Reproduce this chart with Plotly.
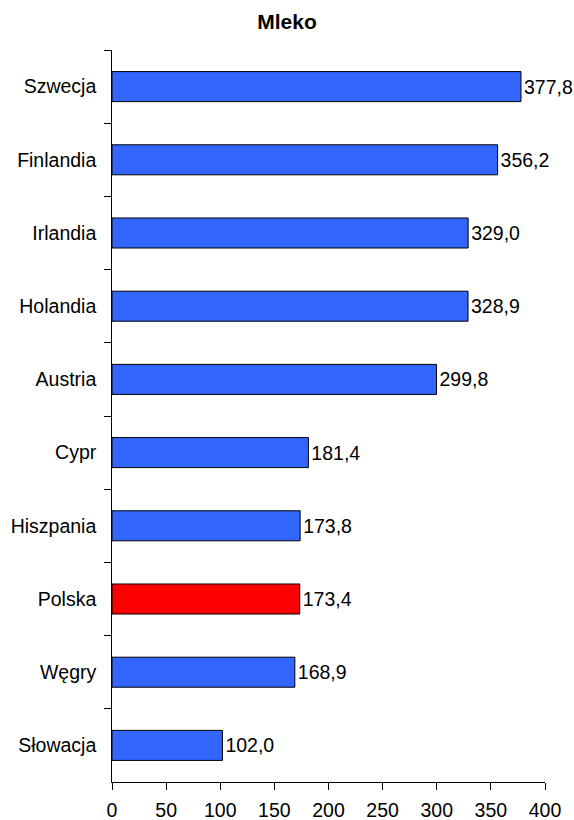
import plotly.graph_objects as go

countries = ["Szwecja", "Finlandia", "Irlandia", "Holandia", "Austria",
             "Cypr", "Hiszpania", "Polska", "Węgry", "Słowacja"]
values = [377.8, 356.2, 329.0, 328.9, 299.8, 181.4, 173.8, 173.4, 168.9, 102.0]
highlight = "Polska"
x_ticks = [0, 50, 100, 150, 200, 250, 300, 350, 400]

colors = ["#FF0000" if c == highlight else "#3366FF" for c in countries]
labels = [f"{v:.1f}".replace(".", ",") for v in values]

FONT = "Liberation Sans, Arial"

fig = go.Figure(go.Bar(
    x=values, y=countries, orientation="h",
    marker=dict(color=colors, line=dict(color="black", width=1)),
    text=labels, textposition="outside", cliponaxis=False,
    textfont=dict(size=19.5, color="black", family=FONT),
    width=0.41,
))

fig.update_layout(
    width=574, height=820,
    margin=dict(l=112, r=29, t=50, b=38, autoexpand=False),
    paper_bgcolor="white", plot_bgcolor="white",
    font=dict(family=FONT, size=19.5, color="black"),
    title=dict(text="<b>Mleko</b>", x=0.5, xanchor="center", y=1 - 21.5 / 820,
               yanchor="middle", font=dict(size=21)),
    showlegend=False,
)
fig.update_xaxes(range=[0, 400], tickvals=x_ticks, showline=True, linecolor="black",
                 linewidth=1, ticks="outside", ticklen=7, tickcolor="black",
                 showgrid=False, zeroline=False, ticklabelstandoff=4)
fig.update_yaxes(autorange="reversed", showline=True, linecolor="black", linewidth=1,
                 ticks="outside", ticklen=7, tickcolor="black", tickson="boundaries",
                 showgrid=False, ticksuffix="\u00a0\u00a0")

fig.write_html(
    "out.html",
    config={"displayModeBar": False},
    post_script="document.body.style.margin='0';document.body.style.overflow='hidden';",
)
